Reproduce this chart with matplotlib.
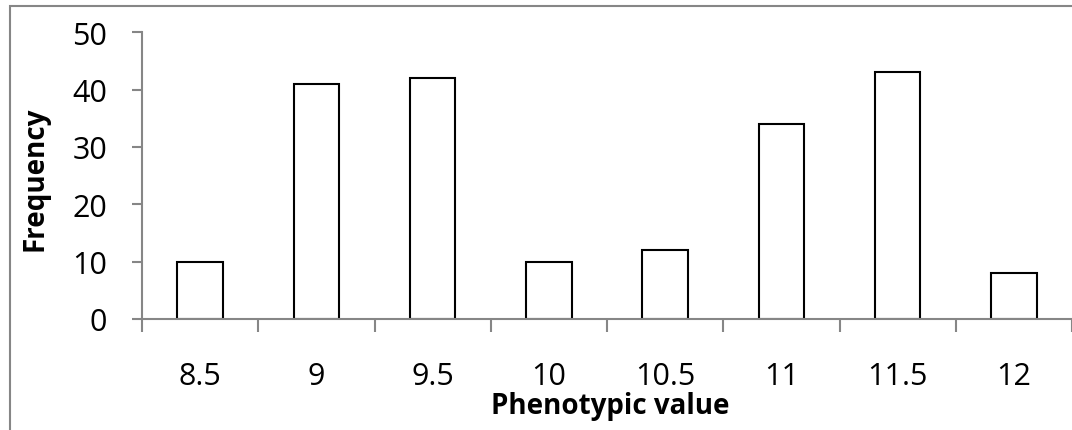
import matplotlib
matplotlib.use("Agg")
import matplotlib.pyplot as plt
from matplotlib.patches import Rectangle

# phenotypic value classes and their counts
categories = ["8.5", "9", "9.5", "10", "10.5", "11", "11.5", "12"]
frequency = [10, 41, 42, 10, 12, 34, 43, 8]

plt.rcParams['font.family'] = ['Open Sans', 'DejaVu Sans']

W, H = 1072, 431
fig = plt.figure(figsize=(W / 100, H / 100), dpi=100)

# plot area in pixel terms
left, right, bottom, top = 142, 1072, 320, 33.3
ax = fig.add_axes([left / W, 1 - bottom / H, (right - left) / W, (bottom - top) / H])

x = list(range(len(categories)))
ax.bar(x, frequency, width=0.39, color="white", edgecolor="black", linewidth=1.5)

grey = "#868686"
tick_fs = 22
label_fs = 20
ax.set_ylim(0, 50)
ax.set_xlim(-0.5, len(categories) - 0.5 - 3 / 116.7)
ax.set_yticks(range(0, 51, 10))
ax.tick_params(axis="y", length=7, width=1.5, color=grey, pad=18, labelsize=tick_fs)

# category boundaries get tick marks, labels sit at the bar centres
ax.set_xticks([i - 0.5 for i in range(len(categories) + 1)])
ax.set_xticklabels([])
ax.set_xticks(x, minor=True)
ax.set_xticklabels(categories, minor=True)
ax.tick_params(axis="x", which="major", length=9, width=1.5, color=grey)
ax.tick_params(axis="x", which="minor", length=0, pad=30, labelsize=tick_fs)

for side in ("top", "right"):
    ax.spines[side].set_visible(False)
for side in ("left", "bottom"):
    ax.spines[side].set_color(grey)
    ax.spines[side].set_linewidth(1.5)

ax.set_xlabel("Phenotypic value", fontsize=label_fs, fontweight="bold", va="center")
ax.xaxis.set_label_coords(0.503, -0.303)
ax.set_ylabel("Frequency", fontsize=label_fs, fontweight="bold", va="center")
ax.yaxis.set_label_coords(-0.115, 0.4935)

# chart area border (cut off on the right and bottom)
fig.add_artist(Rectangle((10 / W, -0.2), 1.2, 1.2 - 7 / H, transform=fig.transFigure,
                         fill=False, edgecolor=grey, linewidth=1.5))

fig.savefig("out.png", dpi=100)
